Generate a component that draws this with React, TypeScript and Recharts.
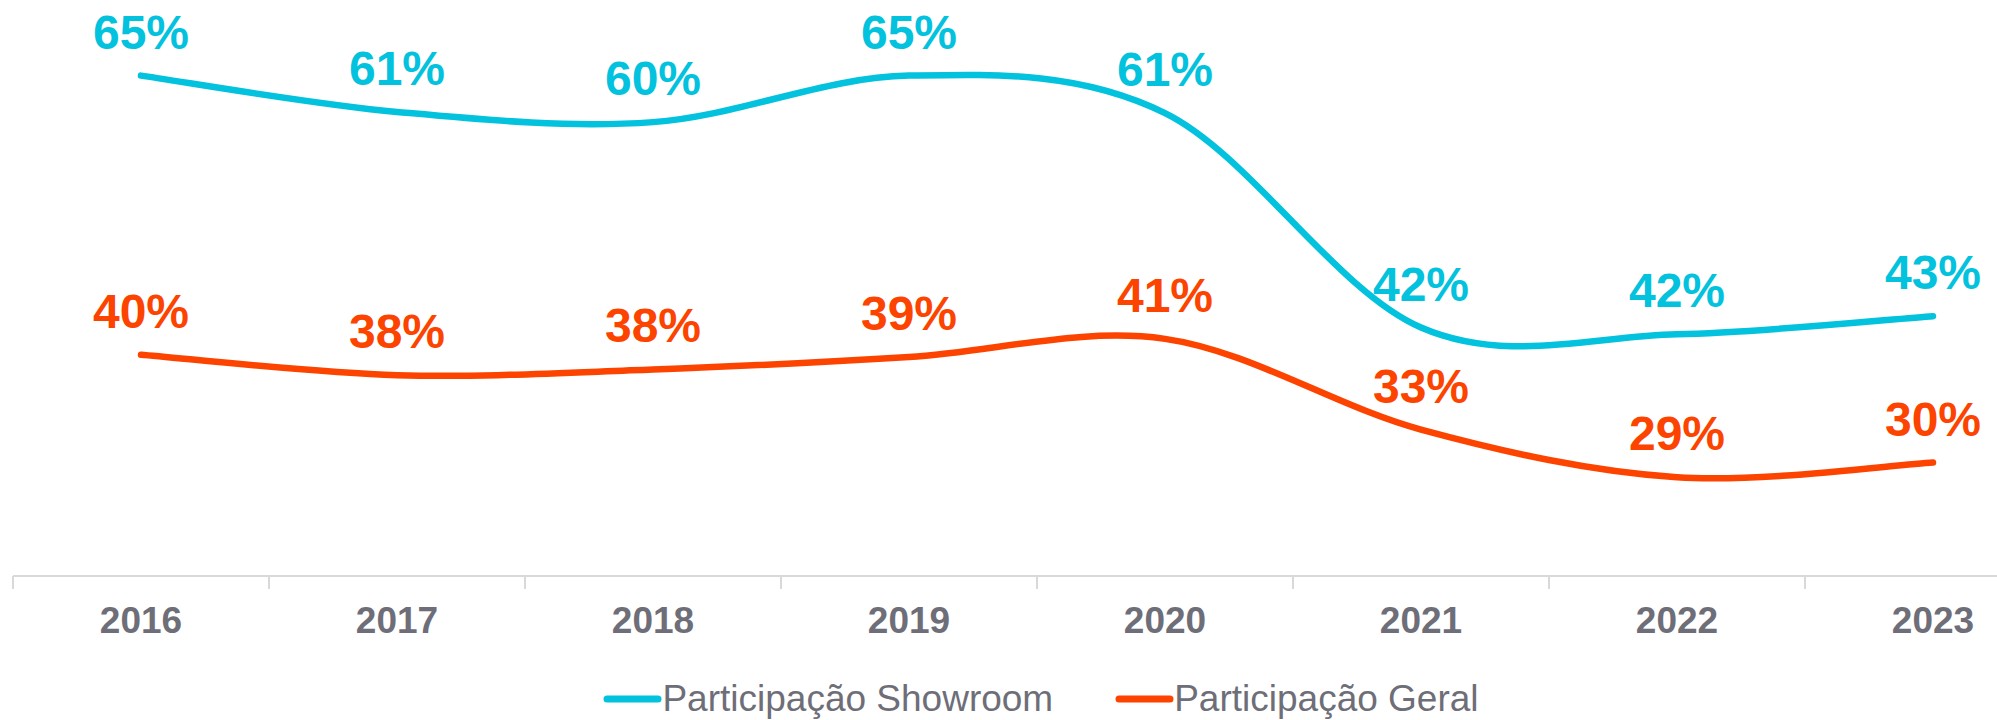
import { LineChart, Line, XAxis, YAxis, Legend, LabelList } from 'recharts'

const years = ['2016', '2017', '2018', '2019', '2020', '2021', '2022', '2023']
const showroom = [65.1, 61.9, 61.0, 65.1, 61.8, 42.9, 42.3, 43.9]
const geral = [40.5, 38.7, 39.2, 40.3, 41.9, 33.9, 29.7, 31.0]
const showroomLabels = ['65%', '61%', '60%', '65%', '61%', '42%', '42%', '43%']
const geralLabels = ['40%', '38%', '38%', '39%', '41%', '33%', '29%', '30%']

const CYAN = '#02C2DD'
const ORANGE = '#FC4400'
const GRAY = '#6E6E78'
const FONT = '"Liberation Sans", Arial, sans-serif'

const data = years.map((year, i) => ({
  year,
  pos: i + 0.5,
  showroom: showroom[i],
  geral: geral[i],
  showroomLabel: showroomLabels[i],
  geralLabel: geralLabels[i]
}))

// boundaries carry the tick marks, half steps carry the year labels
const xTicks = years.flatMap((_, i) => [i, i + 0.5]).concat(years.length)

// smoothing like office charts (catmull-rom, 1/6 control points)
function smoothCurve(context: any) {
  let pts: number[][] = []
  return {
    areaStart() {},
    areaEnd() {},
    lineStart() {
      pts = []
    },
    point(x: number, y: number) {
      pts.push([+x, +y])
    },
    lineEnd() {
      const n = pts.length
      if (!n) return
      context.moveTo(pts[0][0], pts[0][1])
      for (let i = 0; i < n - 1; i++) {
        const p0 = pts[Math.max(0, i - 1)]
        const p1 = pts[i]
        const p2 = pts[i + 1]
        const p3 = pts[Math.min(n - 1, i + 2)]
        context.bezierCurveTo(
          p1[0] + (p2[0] - p0[0]) / 6,
          p1[1] + (p2[1] - p0[1]) / 6,
          p2[0] - (p3[0] - p1[0]) / 6,
          p2[1] - (p3[1] - p1[1]) / 6,
          p2[0],
          p2[1]
        )
      }
    }
  }
}

function YearTick({ x, y, payload }: any) {
  const v = payload.value
  if (Number.isInteger(v)) {
    return <line x1={x} x2={x} y1={y} y2={y + 13} stroke="#D9D9D9" strokeWidth={2} />
  }
  return (
    <text x={x} y={y + 57} textAnchor="middle" fill={GRAY} fontSize={37} fontWeight="bold" fontFamily={FONT}>
      {years[Math.floor(v)]}
    </text>
  )
}

function makeLabel(color: string) {
  return (props: any) => {
    const { x, y, value } = props
    return (
      <text x={x} y={y - 27} textAnchor="middle" fill={color} fontSize={48} fontWeight="bold" fontFamily={FONT}>
        {value}
      </text>
    )
  }
}

function LegendContent() {
  const items = [
    { name: 'Participação Showroom', color: CYAN },
    { name: 'Participação Geral', color: ORANGE }
  ]
  return (
    <div style={{ display: 'flex', justifyContent: 'center', gap: 62, fontFamily: FONT, paddingLeft: 8 }}>
      {items.map((it) => (
        <div key={it.name} style={{ display: 'flex', alignItems: 'center' }}>
          <svg width={59} height={10}>
            <line x1={4} x2={55} y1={5} y2={5} stroke={it.color} strokeWidth={7} strokeLinecap="round" />
          </svg>
          <span style={{ color: GRAY, fontSize: 37, lineHeight: '42px' }}>{it.name}</span>
        </div>
      ))}
    </div>
  )
}

export default function App() {
  return (
    <div style={{ position: 'fixed', top: 0, left: 0, width: 1997, height: 720, overflow: 'hidden', background: '#fff' }}>
      <LineChart width={2070} height={720} data={data} margin={{ top: 20, right: 9, left: 13, bottom: 0 }}>
        <XAxis
          dataKey="pos"
          type="number"
          domain={[0, years.length]}
          ticks={xTicks}
          interval={0}
          tickLine={false}
          tickSize={0}
          tickMargin={0}
          height={102}
          axisLine={{ stroke: '#D9D9D9', strokeWidth: 2 }}
          tick={<YearTick />}
        />
        <YAxis hide domain={[21, 70]} />
        <Legend verticalAlign="bottom" height={42} content={<LegendContent />} />
        <Line
          dataKey="showroom"
          name="Participação Showroom"
          type={smoothCurve as any}
          stroke={CYAN}
          strokeWidth={6.5}
          strokeLinecap="round"
          dot={false}
          activeDot={false}
          isAnimationActive={false}
        >
          <LabelList dataKey="showroomLabel" content={makeLabel(CYAN)} />
        </Line>
        <Line
          dataKey="geral"
          name="Participação Geral"
          type={smoothCurve as any}
          stroke={ORANGE}
          strokeWidth={6.5}
          strokeLinecap="round"
          dot={false}
          activeDot={false}
          isAnimationActive={false}
        >
          <LabelList dataKey="geralLabel" content={makeLabel(ORANGE)} />
        </Line>
      </LineChart>
    </div>
  )
}
